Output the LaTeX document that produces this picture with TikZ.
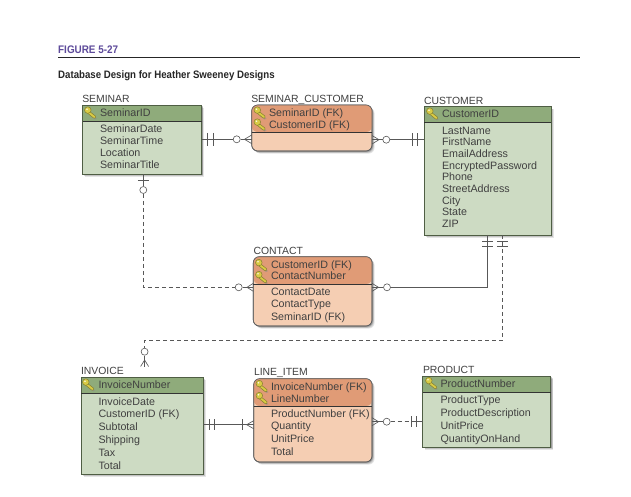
\documentclass[tikz,border=0pt]{standalone}
\usepackage{fontspec}
\setmainfont{Liberation Sans}
\usetikzlibrary{calc}
\definecolor{gh}{HTML}{8FAB7B}
\definecolor{gb}{HTML}{CDDBC3}
\definecolor{oh}{HTML}{E09B76}
\definecolor{ob}{HTML}{F5CEB3}
\definecolor{ink}{HTML}{404040}
\definecolor{wire}{HTML}{585858}
\definecolor{purp}{HTML}{5E4B9B}
\definecolor{kfill}{HTML}{D9CB45}
\definecolor{kline}{HTML}{85802F}
\tikzset{
  x=1pt,y=-1pt,
  txt/.style={anchor=base west,inner sep=0,outer sep=0,text=ink,font=\fontsize{10.7}{12}\selectfont},
  ttl/.style={txt,font=\fontsize{10.4}{12}\selectfont},
  conn/.style={draw=wire,line width=.65pt},
  dashconn/.style={conn,dash pattern=on 4pt off 3pt},
  ring/.style={circle,draw=wire,fill=white,line width=.6pt,inner sep=0,minimum size=7pt},
  keybow/.style={draw=kline,fill=kfill,line width=.5pt},
  greenbox/.style={draw=black!45!gh,fill=gb,line width=.7pt,inner sep=0,outer sep=0},
  orangebox/.style={draw=black!62,fill=ob,line width=.65pt,inner sep=0,outer sep=0,rounded corners=6pt},
  sepline/.style={draw=black!80,line width=.7pt},
  pics/keyicon/.style={code={
    \fill[black!45,opacity=.55] (2,1.5) -- (7,6) -- (5,7) -- (0.5,3.5) -- cycle;
    \draw[keybow] (-1,-1.5) -- (5.5,3.6) -- (5.2,5.6) -- (3.4,5.4) -- (-2.5,.6) -- cycle;
    \draw[keybow] (-2.2,-2.4) circle (3.3pt);
    \fill[white!85!kfill] (-3,-3.2) circle (.9pt);
  }}
}
\def\orangename{orangebox}
\newcommand\erbox[8]{% name x1 y1 x2 y2 ysep style headercolour
  \def\thisstyle{#7}%
  \ifx\thisstyle\orangename\def\thisrad{6pt}\else\def\thisrad{0pt}\fi
  \foreach \s/\o in {2.6/.10,1.8/.14,1/.20}{
    \fill[black,opacity=\o,rounded corners=\thisrad] (#2+\s,#3+\s) rectangle (#4+\s,#5+\s);
  }
  \node[#7,minimum width=#4pt-#2pt,minimum height=#5pt-#3pt] (#1) at ({(#2+#4)/2},{(#3+#5)/2}) {};
  \ifx\thisstyle\orangename
    \fill[#8,rounded corners=6pt] (#2,#6) -- (#2,#3) -- (#4,#3) -- (#4,#6) -- cycle;
    \draw[draw=black!62,line width=.65pt,rounded corners=6pt] (#1.north west) rectangle (#1.south east);
  \else
    \fill[#8] (#2,#3) rectangle (#4,#6);
    \draw[draw=black!45!gh,line width=.7pt] (#1.north west) rectangle (#1.south east);
  \fi
  \draw[sepline] (#1.west |- 0,#6) -- (#1.east |- 0,#6);
}
% name x y dy list
\newcommand\lines[5]{\foreach \t [count=\i] in {#5}{\node[txt] (#1-\i) at (#2,{#3+(\i-1)*#4}) {\t};}}
\newcommand\tickv[3]{\draw[conn] (#1,#2-#3) -- (#1,#2+#3);}
\newcommand\tickh[3]{\draw[conn] (#1-#3,#2) -- (#1+#3,#2);}
\begin{document}
\begin{tikzpicture}
\useasboundingbox[fill=white] (0,0) rectangle (631,496);
% heading
\node[anchor=base west,inner sep=0,text=purp,font=\fontsize{11}{12}\selectfont\bfseries] (fig) at (58,53) {\scalebox{.9}[1]{FIGURE 5-27}};
\coordinate (ruleL) at (58,57.5);
\coordinate (ruleR) at (580,57.5);
\draw[black!85,line width=.8pt] (ruleL) -- (ruleR);
\node[anchor=base west,inner sep=0,text=black!85,font=\fontsize{10.8}{12}\selectfont\bfseries] (sub) at (58,78) {\scalebox{.895}[1]{Database Design for Heather Sweeney Designs}};
% boxes
\erbox{seminar}{82.5}{105}{201.5}{174}{121}{greenbox}{gh}
\erbox{sc}{251.7}{105}{372}{151}{132}{orangebox}{oh}
\erbox{customer}{424.3}{106.7}{551}{235}{122}{greenbox}{gh}
\erbox{contact}{253.3}{256.7}{372}{326}{284}{orangebox}{oh}
\erbox{invoice}{81}{377.3}{203}{474}{393}{greenbox}{gh}
\erbox{lineitem}{253.7}{378.7}{372}{462}{406}{orangebox}{oh}
\erbox{product}{422.7}{376.3}{550.7}{447.3}{392}{greenbox}{gh}
% titles
\node[ttl] (tseminar) at (82.3,102) {SEMINAR};
\node[ttl] (tsc) at (251.3,102) {SEMINAR\_CUSTOMER};
\node[ttl] (tcustomer) at (424,104.5) {CUSTOMER};
\node[ttl] (tcontact) at (253.5,254) {CONTACT};
\node[ttl] (tinvoice) at (81,374) {INVOICE};
\node[ttl] (tlineitem) at (254,375.7) {LINE\_ITEM};
\node[ttl] (tproduct) at (423,373) {PRODUCT};
% keys
\foreach \kx/\ky in {90/112.5,259.5/112.5,259.5/124.5,432/113.5,261/265,261/277,88/384.5,261.5/386,261.5/398,431/383}{\pic at (\kx,\ky) {keyicon};}
% text
\lines{ks}{100}{116}{12}{SeminarID}
\lines{as}{100}{132}{12}{SeminarDate,SeminarTime,Location,SeminarTitle}
\lines{ksc}{269}{116}{12}{SeminarID (FK),CustomerID (FK)}
\lines{kc}{442}{117}{12}{CustomerID}
\lines{ac}{442}{134}{11.7}{LastName,FirstName,EmailAddress,EncryptedPassword,Phone,StreetAddress,City,State,ZIP}
\lines{kct}{271}{268}{11}{CustomerID (FK),ContactNumber}
\lines{act}{271}{295}{12.8}{ContactDate,ContactType,SeminarID (FK)}
\lines{ki}{98.5}{388}{12}{InvoiceNumber}
\lines{ai}{98.5}{405}{12.8}{InvoiceDate,CustomerID (FK),Subtotal,Shipping,Tax,Total}
\lines{kl}{271}{390}{12}{InvoiceNumber (FK),LineNumber}
\lines{al}{271}{417}{12.8}{ProductNumber (FK),Quantity,UnitPrice,Total}
\lines{kp}{440.5}{387.5}{12}{ProductNumber}
\lines{ap}{440.5}{403}{13}{ProductType,ProductDescription,UnitPrice,QuantityOnHand}
% rings
\node[ring] (r1) at (236.7,139.3) {};
\node[ring] (r2) at (386.3,139.7) {};
\node[ring] (r3) at (143.3,190) {};
\node[ring] (r4) at (238.7,287.3) {};
\node[ring] (r5) at (387,287.3) {};
\node[ring] (r6) at (144.6,351.7) {};
\node[ring] (r7) at (386.7,421.7) {};
\coordinate (c5) at (487.7,287.3);
\coordinate (c6a) at (502.3,340.3);
\coordinate (c6b) at (144.6,340.3);
\coordinate (c6c) at (144.6,367);
\coordinate (c7) at (0,424.7);
\coordinate (c8) at (411.7,421.7);
% SEMINAR - SEMINAR_CUSTOMER
\draw[conn] (seminar.east |- r1) -- (r1);
\draw[conn] (r1) -- (sc.west |- r1);
\tickv{207.7}{139.3}{6.5}\tickv{213.3}{139.3}{6.5}
\draw[conn] (251.7,135) -- (244.5,139.3) -- (251.7,143.6);
% SEMINAR_CUSTOMER - CUSTOMER
\draw[conn] (sc.east |- r2) -- (r2);
\draw[conn] (r2) -- (customer.west |- r2);
\draw[conn] (372,135.5) -- (379,139.7) -- (372,144);
\tickv{412.7}{139.7}{6.5}\tickv{417}{139.7}{6.5}
% SEMINAR - CONTACT
\draw[conn] (seminar.south -| r3) -- (r3);
\tickh{143.3}{180.7}{5.5}
\draw[dashconn] (r3) |- (r4);
\draw[conn] (r4) -- (contact.west |- r4);
\draw[conn] (253.3,283.3) -- (247,287.3) -- (253.3,291.3);
% CONTACT - CUSTOMER
\draw[conn] (contact.east |- r5) -- (r5);
\draw[conn] (372,283.3) -- (378.5,287.3) -- (372,291.3);
\draw[conn] (r5) -- (c5) -- (customer.south -| c5);
\tickh{487.7}{241.7}{5.5}\tickh{487.7}{246.3}{5.5}
% CUSTOMER - INVOICE
\draw[dashconn] (customer.south -| c6a) -- (c6a) -- (c6b) -- (r6);
\tickh{502.3}{241.7}{5.5}\tickh{502.3}{246.3}{5.5}
\draw[conn] (r6) -- (c6c);
\draw[conn] (140.6,366.5) -- (144.6,360) -- (148.6,366.5);
% INVOICE - LINE_ITEM
\draw[conn] (invoice.east |- c7) -- (lineitem.west |- c7);
\tickv{209.3}{424.7}{5.5}\tickv{214.3}{424.7}{5.5}\tickv{242.3}{424.7}{5.5}
\draw[conn] (253.7,420.7) -- (246.7,424.7) -- (253.7,428.7);
% LINE_ITEM - PRODUCT
\draw[conn] (lineitem.east |- r7) -- (r7);
\draw[conn] (372,417.7) -- (378.5,421.7) -- (372,425.7);
\draw[dashconn] (r7) -- (c8);
\draw[conn] (c8) -- (product.west |- c8);
\tickv{411.7}{421.7}{5.5}\tickv{416.7}{421.7}{5.5}
\end{tikzpicture}
\end{document}
